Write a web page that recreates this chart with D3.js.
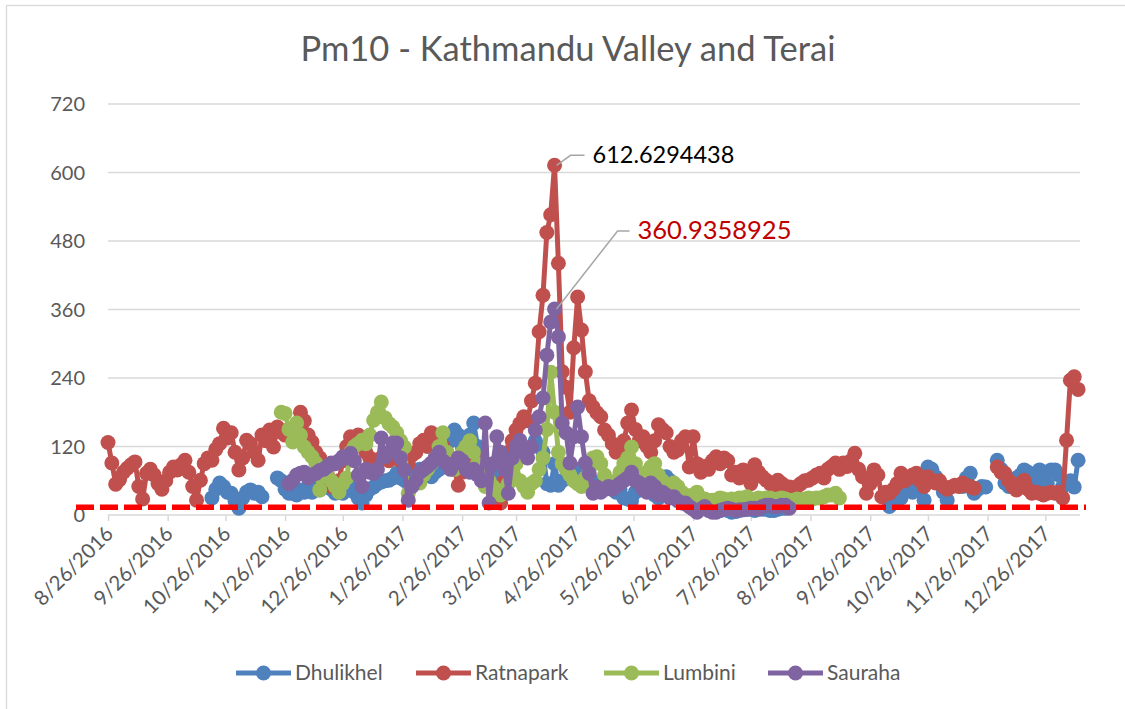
<!DOCTYPE html>
<html><head><meta charset="utf-8">
<script src="https://cdn.jsdelivr.net/npm/d3@7"></script>
<style>body{margin:0;background:#fff;} svg{display:block;font-family:Lato,"Open Sans",sans-serif;}</style>
</head><body><svg id="chart" width="1125" height="709"></svg>
<script>
// ---------- DATA ----------
const startDate = "8/26/2016";
const endDate = "1/13/2018";
const stepDays = 2;
const seriesNames = ["Dhulikhel", "Ratnapark", "Lumbini", "Sauraha"];
const yTicks = [0, 120, 240, 360, 480, 600, 720];
const xTickLabels = ["8/26/2016","9/26/2016","10/26/2016","11/26/2016","12/26/2016","1/26/2017","2/26/2017","3/26/2017","4/26/2017","5/26/2017","6/26/2017","7/26/2017","8/26/2017","9/26/2017","10/26/2017","11/26/2017","12/26/2017"];
const guidelineValue = 13.5;
const chartTitle = "Pm10 - Kathmandu Valley and Terai";

const N = null;
const dhulikhel = [
 N,N,N,N,N,N,N,N,N,N,
 N,N,N,N,N,N,N,N,N,N,
 N,N,N,N,N,N,N,30,45,56,
 50,40,38,25,12,30,40,44,38,40,
 32,N,N,N,65,60,45,38,38,35,
 44,40,48,40,50,44,55,50,45,38,
 40,38,45,55,40,30,21,35,45,49,
 55,58,60,61,65,73,65,61,55,70,
 75,80,75,70,67,75,80,95,110,130,
 149,140,120,100,140,161,120,100,90,70,
 50,60,80,90,90,95,100,105,110,115,
 120,130,120,110,55,52,90,52,60,65,
 70,75,80,60,55,52,50,55,60,45,
 50,45,40,45,30,28,25,40,50,67,
 60,45,35,30,55,67,60,40,30,25,
 20,15,12,15,21,18,15,10,8,8,
 10,8,5,6,8,12,10,10,8,12,
 10,10,8,8,10,12,12,15,N,N,
 N,N,N,N,N,N,N,N,N,N,
 N,N,N,N,N,N,N,N,N,N,
 N,N,N,15,21,25,30,49,45,40,
 55,45,26,84,80,67,55,40,26,N,
 N,N,50,65,73,38,45,50,49,N,
 N,96,80,56,50,55,65,70,79,75,
 55,70,79,60,55,79,79,70,50,55,
 60,49,96
];
const ratnapark = [
 127,91,54,62,75,82,88,93,50,28,
 73,80,70,55,45,60,75,84,79,88,
 96,75,50,26,61,90,100,96,115,125,
 152,135,144,110,79,100,131,125,110,96,
 140,130,149,119,154,145,140,150,135,150,
 180,165,140,128,110,100,85,70,50,55,
 60,95,120,137,130,140,119,110,100,95,
 91,100,102,95,110,105,95,100,90,105,
 110,125,131,120,144,130,115,120,110,100,
 80,52,75,100,115,105,100,90,80,60,
 40,25,21,60,110,130,149,160,172,165,
 200,231,321,385,495,526,612.6294438,441,251,224,
 180,293,382,324,251,200,189,179,172,149,
 140,125,110,119,130,161,184,150,130,137,
 120,110,130,158,150,144,120,110,114,130,
 137,84,137,90,75,85,80,95,102,90,
 100,95,70,75,65,79,70,55,88,75,
 67,61,55,50,61,55,50,49,45,50,
 55,60,61,65,70,73,65,80,85,91,
 80,91,85,95,108,80,67,38,55,79,
 70,32,40,38,45,55,73,60,65,70,
 73,60,50,67,60,56,60,50,45,49,
 52,50,56,52,50,47,N,N,N,N,
 N,84,75,73,60,50,44,55,61,45,
 38,40,38,35,38,40,38,40,30,131,
 236,242,220
];
const lumbini = [
 N,N,N,N,N,N,N,N,N,N,
 N,N,N,N,N,N,N,N,N,N,
 N,N,N,N,N,N,N,N,N,N,
 N,N,N,N,N,N,N,N,N,N,
 N,N,N,N,N,180,178,150,128,161,
 140,119,110,102,91,44,70,80,60,50,
 40,55,65,110,120,125,131,125,140,166,
 180,198,170,160,154,144,130,119,38,55,
 60,56,70,80,90,100,120,144,110,90,
 80,100,110,120,130,110,90,70,50,60,
 50,40,35,45,55,70,90,60,50,40,
 55,60,80,100,150,250,180,110,90,80,
 70,60,55,50,65,80,100,102,90,70,
 55,50,60,75,90,100,119,90,70,60,
 75,84,90,70,60,50,45,56,50,40,
 35,30,35,40,30,28,25,26,26,30,
 28,26,28,26,30,30,32,28,25,30,
 28,30,30,26,28,30,28,26,26,28,
 26,28,30,28,30,30,32,35,35,38,
 30
];
const sauraha = [
 N,N,N,N,N,N,N,N,N,N,
 N,N,N,N,N,N,N,N,N,N,
 N,N,N,N,N,N,N,N,N,N,
 N,N,N,N,N,N,N,N,N,N,
 N,N,N,N,N,N,N,55,61,70,
 73,75,65,70,73,78,80,85,91,90,
 95,102,100,108,95,70,50,80,75,73,
 80,135,102,110,126,126,100,79,26,50,
 61,75,80,85,91,100,110,95,90,80,
 90,100,95,80,75,80,70,60,161,21,
 90,137,110,80,38,100,120,131,110,100,
 119,149,172,205,280,338,360.9358925,312,161,144,
 91,137,189,137,91,73,38,49,40,45,
 50,45,50,55,60,65,75,60,56,45,
 40,56,50,35,40,35,30,32,25,21,
 21,15,10,5,10,15,8,5,5,8,
 10,12,10,8,9,9,10,12,12,10,
 15,17,17,15,15,17,17,12
];
const seriesData = [dhulikhel, ratnapark, lumbini, sauraha];
const seriesColors = ["#4F81BD", "#C0504D", "#9BBB59", "#8064A2"];

// ---------- CHART ----------
const svg = d3.select("#chart");
const parse = d3.utcParse("%m/%d/%Y");
const t0 = parse(startDate);
const x = d3.scaleUtc().domain([t0, parse(endDate)]).range([108, 1080]);
const y = d3.scaleLinear().domain([0, 720]).range([515, 104]);
const textColor = "#595959";
const markerR = 7.5, lineW = 5;

// outer border
svg.append("rect").attr("x", 6.5).attr("y", 5.5).attr("width", 1140).attr("height", 720)
  .attr("fill", "none").attr("stroke", "#D9D9D9").attr("stroke-width", 1.3);

// title
svg.append("text").attr("x", 568).attr("y", 61).attr("text-anchor", "middle")
  .attr("font-size", 34.5).attr("fill", textColor).text(chartTitle);

// gridlines
svg.append("g").selectAll("line").data(yTicks.slice(1)).join("line")
  .attr("x1", 108).attr("x2", 1080).attr("y1", d => y(d)).attr("y2", d => y(d))
  .attr("stroke", "#D9D9D9").attr("stroke-width", 1.5);

// y axis labels
svg.append("g").selectAll("text").data(yTicks).join("text")
  .attr("x", 85).attr("y", d => y(d) + 7).attr("text-anchor", "end")
  .attr("font-size", 20).attr("fill", textColor).text(d => d);

// x axis
const xAxis = d3.axisBottom(x).tickValues(xTickLabels.map(parse)).tickSize(6).tickFormat((d, i) => xTickLabels[i]);
const gx = svg.append("g").attr("transform", "translate(0,515)").call(xAxis);
gx.select(".domain").attr("stroke", "#D9D9D9").attr("stroke-width", 1.5).attr("d", "M108,0H1080");
gx.selectAll(".tick line").attr("stroke", "#D9D9D9").attr("stroke-width", 1.5);
gx.selectAll(".tick text").attr("font-size", 20.5).attr("fill", textColor)
  .attr("font-family", "Lato")
  .attr("text-anchor", "end").attr("dy", 0).attr("y", 0)
  .attr("transform", "translate(6,20) rotate(-45)");

// series
const pts = seriesData.map(arr => arr.map((v, i) => ({ date: d3.utcDay.offset(t0, i * stepDays), v })));
const line = d3.line().defined(d => d.v != null).x(d => x(d.date)).y(d => y(d.v));
const gs = svg.append("g");
pts.forEach((p, k) => {
  const g = gs.append("g");
  g.append("path").datum(p).attr("d", line).attr("fill", "none")
    .attr("stroke", seriesColors[k]).attr("stroke-width", lineW).attr("stroke-linejoin", "round");
  g.selectAll("circle").data(p.filter(d => d.v != null)).join("circle")
    .attr("cx", d => x(d.date)).attr("cy", d => y(d.v)).attr("r", markerR).attr("fill", seriesColors[k]);
});

// guideline dashed
svg.append("line").attr("x1", 76).attr("x2", 1086).attr("y1", y(guidelineValue)).attr("y2", y(guidelineValue))
  .attr("stroke", "#FF0000").attr("stroke-width", 5.5).attr("stroke-dasharray", "18,6");

// annotations
const annotations = [
  { series: 1, dx1: 16, dy1: -10, len: 14, color: "#000000", size: 23.5 },
  { series: 3, dx1: 63, dy1: -78, len: 12, color: "#C00000", size: 25.5 }
];
annotations.forEach(a => {
  const arr = seriesData[a.series];
  const idx = d3.maxIndex(arr);
  const p = pts[a.series][idx];
  const px = x(p.date), py = y(p.v);
  const ex = px + a.dx1, ey = py + a.dy1;
  svg.append("path").attr("d", `M${px + 2},${py}L${ex},${ey}H${ex + a.len}`)
    .attr("fill", "none").attr("stroke", "#A6A6A6").attr("stroke-width", 1.5);
  svg.append("text").attr("x", ex + a.len + 8).attr("y", ey + 8).attr("font-size", a.size)
    .attr("fill", a.color).text(arr[idx]);
});

// legend
const legendX = [236, 416, 604, 768];
const legendY = 673;
seriesNames.forEach((name, k) => {
  const g = svg.append("g");
  g.append("line").attr("x1", legendX[k]).attr("x2", legendX[k] + 55).attr("y1", legendY).attr("y2", legendY)
    .attr("stroke", seriesColors[k]).attr("stroke-width", lineW);
  g.append("circle").attr("cx", legendX[k] + 27.5).attr("cy", legendY).attr("r", markerR).attr("fill", seriesColors[k]);
  g.append("text").attr("x", legendX[k] + 59).attr("y", legendY + 7).attr("font-size", 21)
    .attr("fill", textColor).text(name);
});
</script></body></html>
